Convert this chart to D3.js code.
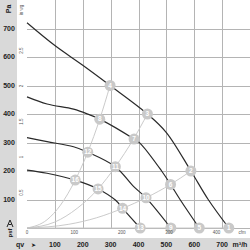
<!DOCTYPE html>
<html>
<head>
<meta charset="utf-8">
<script src="https://cdn.jsdelivr.net/npm/d3@7"></script>
<style>
  body { margin: 0; background: #fff; }
  svg { display: block; font-family: "Liberation Sans", Arial, sans-serif; }
</style>
</head>
<body>
<svg id="chart" width="250" height="250"></svg>
<script>
// fan curves (airflow m3/h, pressure Pa)
var fan1Q = [0, 100, 200, 298, 432, 500, 588, 650, 724];
var fan1P = [720, 640, 571, 500, 400, 335, 200, 100, 0];
var fan2Q = [0, 72, 167, 227, 261, 384, 406, 483, 515, 549, 618];
var fan2P = [460, 435, 417, 396, 382, 312, 297, 200, 153, 100, 0];
var fan3Q = [0, 72, 167, 218, 317, 383, 427, 516];
var fan3P = [317, 303, 285, 266, 215, 145, 106, 0];
var fan4Q = [0, 72, 173, 255, 317, 343, 406];
var fan4P = [203, 192, 168, 137, 98, 69, 0];

// system curves through origin
var sysAQ = [0, 72, 120, 173, 218, 261, 298];
var sysAP = [0, 29, 80, 168, 266, 382, 500];
var sysBQ = [0, 100, 180, 255, 317, 382, 432];
var sysBP = [0, 21, 69, 137, 215, 312, 400];
var sysCQ = [0, 150, 250, 343, 427, 515, 588];
var sysCP = [0, 13, 36, 69, 106, 153, 200];
var sysDQ = [0, 724];
var sysDP = [0, 0];

// numbered operating points
var pointNo = [1, 2, 3, 4, 5, 6, 7, 8, 9, 10, 11, 12, 13, 14, 15, 16];
var pointQ = [724, 588, 432, 298, 618, 515, 384, 261, 516, 427, 317, 218, 406, 343, 255, 173];
var pointP = [0, 200, 400, 500, 0, 153, 312, 382, 0, 106, 215, 266, 0, 69, 137, 168];

// axis ticks
var paTicks = [100, 200, 300, 400, 500, 600, 700];
var m3hTicks = [100, 200, 300, 400, 500, 600, 700];
var cfmTicks = [0, 100, 200, 300, 400];
var inwgTicks = [0.5, 1, 1.5, 2, 2.5];

var svg = d3.select("#chart");
var W = 250, H = 250;

var x = d3.scaleLinear().domain([0, 800]).range([27, 250]);
var y = d3.scaleLinear().domain([0, 800]).range([228, 0]);
var xCfm = function(c) { return x(c * 1.699); };
var yInwg = function(v) { return y(v * 249.1); };

// gray bands
svg.append("rect").attr("x", 0).attr("y", 0).attr("width", 17).attr("height", H).attr("fill", "#d9d9d9");
svg.append("rect").attr("x", 0).attr("y", 238).attr("width", W).attr("height", 12).attr("fill", "#d9d9d9");

// grid
var grid = svg.append("g").attr("stroke", "#b4b4b4").attr("stroke-width", 1);
grid.selectAll(".gx").data(m3hTicks).enter().append("line")
    .attr("x1", function(d) { return Math.round(x(d)) + 0.5; })
    .attr("x2", function(d) { return Math.round(x(d)) + 0.5; })
    .attr("y1", 0).attr("y2", 228);
grid.selectAll(".gy").data([0].concat(paTicks)).enter().append("line")
    .attr("x1", 27).attr("x2", 250)
    .attr("y1", function(d) { return Math.round(y(d)) + 0.5; })
    .attr("y2", function(d) { return Math.round(y(d)) + 0.5; });

function pts(qs, ps) {
    return qs.map(function(q, i) { return [q, ps[i]]; });
}
var line = d3.line()
    .x(function(d) { return x(d[0]); })
    .y(function(d) { return y(d[1]); })
    .curve(d3.curveMonotoneX);

// system curves
[[sysAQ, sysAP], [sysBQ, sysBP], [sysCQ, sysCP], [sysDQ, sysDP]].forEach(function(s) {
    svg.append("path").datum(pts(s[0], s[1]))
        .attr("d", line).attr("fill", "none")
        .attr("stroke", "#c4c4c4").attr("stroke-width", 0.9);
});

// fan curves
var fanLine = d3.line()
    .x(function(d) { return x(d[0]); })
    .y(function(d) { return y(d[1]); })
    .curve(d3.curveCatmullRom.alpha(0.5));
[[fan1Q, fan1P], [fan2Q, fan2P], [fan3Q, fan3P], [fan4Q, fan4P]].forEach(function(s) {
    svg.append("path").datum(pts(s[0], s[1]))
        .attr("d", fanLine).attr("fill", "none")
        .attr("stroke", "#2a2a2a").attr("stroke-width", 1.2);
});

// markers
var mk = svg.selectAll(".mk").data(pointNo).enter().append("g")
    .attr("transform", function(d, i) { return "translate(" + x(pointQ[i]) + "," + y(pointP[i]) + ")"; });
mk.append("circle").attr("r", 5.5).attr("fill", "#c9c9c9");
mk.append("text").text(function(d) { return d; })
    .attr("text-anchor", "middle").attr("dy", "0.35em")
    .attr("font-size", 6.5).attr("font-weight", "bold").attr("fill", "#fff");

// Pa labels
svg.selectAll(".pa").data(paTicks).enter().append("text")
    .attr("x", 9).attr("y", function(d) { return y(d); }).attr("dy", "0.35em")
    .attr("text-anchor", "middle").attr("font-size", 7).attr("font-weight", "bold").attr("fill", "#222")
    .text(function(d) { return d; });
svg.append("text").attr("transform", "translate(11,9) rotate(-90)")
    .attr("text-anchor", "middle").attr("font-size", 7).attr("font-weight", "bold").attr("fill", "#222")
    .text("Pa");

// in wg labels
svg.selectAll(".iw").data(inwgTicks).enter().append("text")
    .attr("transform", function(d) { return "translate(23," + yInwg(d) + ") rotate(-90)"; })
    .attr("text-anchor", "middle").attr("font-size", 4.5).attr("fill", "#555")
    .text(function(d) { return d; });
svg.append("text").attr("transform", "translate(23,10) rotate(-90)")
    .attr("text-anchor", "middle").attr("font-size", 4.5).attr("fill", "#555")
    .text("in wg");

// cfm labels
svg.selectAll(".cf").data(cfmTicks).enter().append("text")
    .attr("x", function(d) { return xCfm(d); }).attr("y", 234)
    .attr("text-anchor", "middle").attr("font-size", 4.5).attr("fill", "#555")
    .text(function(d) { return d; });
svg.append("text").attr("x", 242).attr("y", 234)
    .attr("text-anchor", "middle").attr("font-size", 4.5).attr("fill", "#555").text("cfm");

// m3/h labels
svg.selectAll(".mh").data(m3hTicks).enter().append("text")
    .attr("x", function(d) { return x(d); }).attr("y", 247)
    .attr("text-anchor", "middle").attr("font-size", 7).attr("font-weight", "bold").attr("fill", "#222")
    .text(function(d) { return d; });
svg.append("text").attr("x", 240).attr("y", 247)
    .attr("text-anchor", "middle").attr("font-size", 7).attr("font-weight", "bold").attr("fill", "#222")
    .text("m³/h");
svg.append("text").attr("x", 20).attr("y", 247)
    .attr("text-anchor", "middle").attr("font-size", 7).attr("font-weight", "bold").attr("fill", "#222")
    .text("qv");
svg.append("text").attr("x", 33).attr("y", 247)
    .attr("text-anchor", "middle").attr("font-size", 6).attr("fill", "#222")
    .text("➤");

// psf label with arrow
svg.append("path").attr("d", "M7,227 L10,220 L13,227 M8.5,224.5 L11.5,224.5")
    .attr("fill", "none").attr("stroke", "#222").attr("stroke-width", 1);
svg.append("text").attr("transform", "translate(12,233) rotate(-90)")
    .attr("text-anchor", "middle").attr("font-size", 6).attr("font-weight", "bold").attr("fill", "#222")
    .text("psf");
</script>
</body>
</html>
